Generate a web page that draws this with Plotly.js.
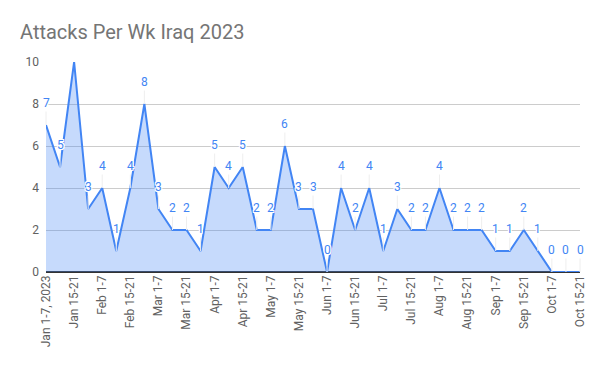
<!DOCTYPE html>
<html><head><meta charset="utf-8">
<script src="https://cdn.plot.ly/plotly-3.0.1.min.js"></script>
<style>html,body{margin:0;padding:0;background:#fff}#chart{width:600px;height:371px}</style>
</head><body><div id="chart"></div>
<script>
const weeks = ["Jan 1-7, 2023","Jan 8-14","Jan 15-21","Jan 22-31",
  "Feb 1-7","Feb 8-14","Feb 15-21","Feb 22-28",
  "Mar 1-7","Mar 8-14","Mar 15-21","Mar 22-31",
  "Apr 1-7","Apr 8-14","Apr 15-21","Apr 22-30",
  "May 1-7","May 8-14","May 15-21","May 22-31",
  "Jun 1-7","Jun 8-14","Jun 15-21","Jun 22-30",
  "Jul 1-7","Jul 8-14","Jul 15-21","Jul 22-31",
  "Aug 1-7","Aug 8-14","Aug 15-21","Aug 22-31",
  "Sep 1-7","Sep 8-14","Sep 15-21","Sep 22-30",
  "Oct 1-7","Oct 8-14","Oct 15-21"];
const attacks = [7,5,10,3,4,1,4,8,3,2,2,1,5,4,5,2,2,6,3,3,0,4,2,4,1,3,2,2,4,2,2,2,1,1,2,1,0,0,0];
const hiddenLabels = [2]; // label clipped above chart in reference
const yTicks = [0,2,4,6,8,10];

const tickWeeks = weeks.filter((w,i)=>i%2===0);
const blue = '#4285F4';
const halo = '1px 0 0 #fff, -1px 0 0 #fff, 0 1px 0 #fff, 0 -1px 0 #fff, 1px 1px 0 #fff, -1px -1px 0 #fff, 1px -1px 0 #fff, -1px 1px 0 #fff';

const annotations = attacks.map((v,i)=>hiddenLabels.includes(i)?null:({
  x: weeks[i], y: v, xref:'x', yref:'y', text: String(v),
  showarrow: true, arrowhead: 0, arrowwidth: 1, arrowcolor: '#eeeeee',
  ax: 0, ay: -22, standoff: 0, startstandoff: 0,
  font: {family: 'Roboto, Arial, sans-serif', size: 12, color: blue, shadow: halo}
})).filter(a=>a);

const trace = {
  x: weeks, y: attacks, type: 'scatter', mode: 'lines',
  line: {color: blue, width: 2},
  fill: 'tozeroy', fillcolor: 'rgba(66,133,244,0.3)',
  hoverinfo: 'x+y'
};

const layout = {
  width: 600, height: 371,
  margin: {l: 46, r: 20, t: 62, b: 99},
  paper_bgcolor: '#fff', plot_bgcolor: '#fff',
  showlegend: false,
  title: {text: 'Attacks Per Wk Iraq 2023', x: 20/600, xref: 'container', xanchor: 'left', y: 0.915, yref: 'container', yanchor: 'middle',
    font: {family: 'Roboto, Arial, sans-serif', size: 20, color: '#757575'}},
  xaxis: {type: 'category', range: [0, weeks.length-1], tickmode: 'array', tickvals: tickWeeks, ticktext: tickWeeks,
    tickangle: -90, tickfont: {family: 'Roboto, Arial, sans-serif', size: 12, color: '#616161'},
    showgrid: false, zeroline: false, showline: false, ticks: ''},
  yaxis: {range: [0, 10], tickmode: 'array', tickvals: yTicks, ticklabelstandoff: 6,
    tickfont: {family: 'Roboto, Arial, sans-serif', size: 12, color: '#616161'},
    gridcolor: '#cccccc', gridwidth: 1, zeroline: true, zerolinecolor: '#333333', zerolinewidth: 1.5, showline: false, ticks: ''},
  annotations: annotations
};
Plotly.newPlot('chart', [trace], layout, {displayModeBar: false, staticPlot: true});
</script></body></html>
